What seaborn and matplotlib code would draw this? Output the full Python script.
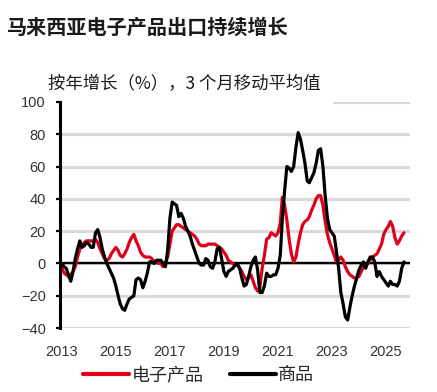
import pandas as pd
import matplotlib.pyplot as plt
import matplotlib.dates as mdates
from matplotlib.patches import Rectangle
import seaborn as sns

# 3-month moving average, y/y growth (%), monthly from Jan 2013
electronics = [
    -3, -6, -7, -8, -7, -5, -2, 4, 9, 11, 13, 14,
    14, 14, 14, 15, 13, 9, 6, 3, 2, 3, 6, 8,
    10, 8, 5, 4, 6, 9, 13, 16, 18, 14, 11, 7,
    5, 4, 4, 4, 3, 1, 1, 0, 0, -2, 0, 4,
    12, 20, 22, 24, 24, 23, 22, 21, 20, 19, 18, 17,
    15, 12, 11, 11, 11, 12, 12, 12, 12, 11, 10, 9,
    7, 5, 2, 1, 0, -1, -1, -3, -5, -8, -10, -9,
    -7, -11, -15, -17, -15, -3, 5, 15, 16, 19, 18, 17,
    19, 25, 41, 36, 27, 15, 6, 1, 4, 12, 19, 24,
    26, 27, 29, 33, 36, 40, 42, 42, 36, 26, 18, 13,
    9, 5, 1, 2, 4, 2, -2, -5, -7, -8, -9, -9,
    -8, -5, -2, -1, 0, 2, 4, 5, 6, 9, 12, 18,
    21, 23, 26, 23, 16, 12, 14, 17, 19,
]
goods = [
    0, -2, -3, -7, -11, -5, 3, 9, 14, 10, 11, 13,
    12, 10, 10, 19, 21, 16, 9, 4, 0, -3, -6, -9,
    -14, -20, -25, -28, -29, -25, -22, -21, -20, -10, -9, -10,
    -15, -11, -6, 1, 1, 0, 2, 2, 2, 0, -2, 8,
    28, 38, 37, 36, 29, 31, 28, 23, 20, 17, 12, 8,
    4, 0, -1, -1, 3, 2, -2, -3, 1, 9, 10, 3,
    -5, -8, -5, -4, -3, -1, 0, -3, -9, -14, -13, -8,
    -2, 2, 4, -4, -18, -18, -14, -6, -8, -8, -7, -7,
    -3, 5, 28, 45, 60, 59, 57, 60, 72, 81, 77, 70,
    62, 51, 50, 53, 56, 62, 70, 71, 60, 42, 28, 21,
    19, 17, 8, -3, -18, -25, -33, -35, -27, -20, -14, -9,
    -4, -1, 1, -3, 1, 4, 4, 1, -8, -5, -8, -10,
    -12, -14, -11, -13, -13, -14, -11, -3, 1,
]
series_names = ["电子产品", "商品"]
colors = ["#e1001a", "#000000"]

months = pd.date_range("2013-01-01", periods=len(goods), freq="MS")
df = pd.DataFrame({
    "Month": list(months) * 2,
    "Growth": electronics + goods,
    "Series": [series_names[0]] * len(electronics) + [series_names[1]] * len(goods),
})

sns.set_style("white")
plt.rcParams["font.family"] = ["Liberation Sans", "Noto Sans CJK SC"]

fig = plt.figure(figsize=(4.37, 3.92), dpi=100)
ax = fig.add_axes([0.137, 0.163, 0.801, 0.577])

for y in range(-40, 101, 20):
    ax.axhline(y, color="#d9d9d9", lw=2.2, zorder=0)
ax.axhline(0, color="black", lw=1.7, zorder=1)

sns.lineplot(data=df, x="Month", y="Growth", hue="Series",
             palette=dict(zip(series_names, colors)), lw=2.3,
             legend=False, ax=ax, zorder=3)

ax.set_ylim(-40, 100)
ax.set_xlim(pd.Timestamp("2012-12-05"), pd.Timestamp("2025-11-20"))
ax.set_yticks(range(-40, 101, 20))
ax.set_xticks(pd.date_range("2013-01-01", "2025-01-01", freq="24MS"))
ax.xaxis.set_major_formatter(mdates.DateFormatter("%Y"))
ax.set_xlabel("")
ax.set_ylabel("")

for s in ["top", "right", "bottom"]:
    ax.spines[s].set_visible(False)
ax.spines["left"].set_color("black")
ax.spines["left"].set_linewidth(2.2)
ax.spines["left"].set_zorder(4)
ax.tick_params(axis="y", left=True, length=3, width=1.6, color="black",
               pad=7, labelsize=10.5, labelcolor="#333333")
ax.tick_params(axis="x", bottom=False, length=0, pad=12,
               labelsize=10.5, labelcolor="#333333")

# white box behind subtitle hides part of the top gridline
ax.add_patch(Rectangle((0.0, 0.985), 0.78, 0.04, transform=ax.transAxes,
                       facecolor="white", edgecolor="none", zorder=2, clip_on=False))

fig.text(0.016, 0.931, "马来西亚电子产品出口持续增长", fontsize=14.5,
         fontweight="bold", color="#1a1a1a", va="center",
         family=["Noto Sans CJK SC", "DejaVu Sans"])
fig.text(0.11, 0.786, "按年增长（%），3 个月移动平均值", fontsize=12.5,
         color="#1a1a1a", va="center",
         family=["Noto Sans CJK SC", "DejaVu Sans"])

handles = [plt.Line2D([], [], color=c, lw=3) for c in colors]
fig.legend(handles, series_names, loc="center", bbox_to_anchor=(0.455, 0.043),
           ncol=2, frameon=False, handlelength=2.5, handletextpad=0.15,
           columnspacing=1.5, prop={"family": "Noto Sans CJK SC", "size": 13})

fig.savefig("out.png", dpi=100)
